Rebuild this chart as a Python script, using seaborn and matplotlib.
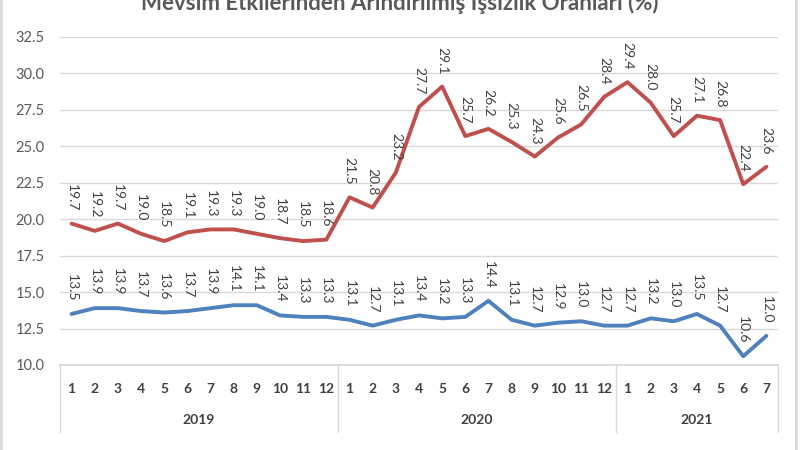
import matplotlib
matplotlib.use('Agg')
import pandas as pd
import seaborn as sns
import matplotlib.pyplot as plt
from matplotlib.lines import Line2D

# Data
years = ['2019', '2020', '2021']
months_per_year = [12, 12, 7]
red_values = [19.7, 19.2, 19.7, 19.0, 18.5, 19.1, 19.3, 19.3, 19.0, 18.7, 18.5, 18.6,
              21.5, 20.8, 23.2, 27.7, 29.1, 25.7, 26.2, 25.3, 24.3, 25.6, 26.5, 28.4,
              29.4, 28.0, 25.7, 27.1, 26.8, 22.4, 23.6]
blue_values = [13.5, 13.9, 13.9, 13.7, 13.6, 13.7, 13.9, 14.1, 14.1, 13.4, 13.3, 13.3,
               13.1, 12.7, 13.1, 13.4, 13.2, 13.3, 14.4, 13.1, 12.7, 12.9, 13.0, 12.7,
               12.7, 13.2, 13.0, 13.5, 12.7, 10.6, 12.0]
red_name = 'Atıl İşgücü Oranı'
blue_name = 'İşsizlik Oranı'
title = 'Mevsim Etkilerinden Arındırılmış İşsizlik Oranları (%)'

month_labels = [str(m) for n in months_per_year for m in range(1, n + 1)]
pos = list(range(len(month_labels)))

df = pd.DataFrame({'pos': pos * 2,
                   'value': red_values + blue_values,
                   'seri': [red_name] * len(pos) + [blue_name] * len(pos)})

sns.set_theme(style='white')
plt.rcParams['font.family'] = ['Lato', 'DejaVu Sans']

red = '#C0504D'
blue = '#4F81BD'
txt = '#404040'

fig = plt.figure(figsize=(8, 4.5), dpi=100)
ax = fig.add_axes([0.075, 0.1889, 0.8975, 0.7289])

sns.lineplot(data=df, x='pos', y='value', hue='seri', palette={red_name: red, blue_name: blue},
             linewidth=2.8, ax=ax, legend=False)

# data labels
for x, v in zip(pos, red_values):
    ax.annotate(f'{v:.1f}', (x, v), xytext=(0, 9), textcoords='offset points',
                rotation=-90, ha='center', va='bottom', fontsize=10, color=txt)
for x, v in zip(pos, blue_values):
    ax.annotate(f'{v:.1f}', (x, v), xytext=(0, 9), textcoords='offset points',
                rotation=-90, ha='center', va='bottom', fontsize=10, color=txt)

ax.set_xlim(-0.5, len(pos) - 0.5)
ax.set_ylim(10, 32.5)
ax.set_yticks([10 + 2.5 * i for i in range(10)])
ax.set_yticklabels([f'{10 + 2.5 * i:.1f}' for i in range(10)])
ax.yaxis.grid(True, color='#D9D9D9', linewidth=1)
ax.set_xticks(pos)
ax.set_xticklabels(month_labels, fontweight='bold')
ax.tick_params(axis='x', length=0, pad=13, labelsize=10, labelcolor=txt)
ax.tick_params(axis='y', length=0, pad=11, labelsize=10.5, labelcolor='#595959')
ax.set_xlabel('')
ax.set_ylabel('')
for s in ['left', 'right', 'top']:
    ax.spines[s].set_visible(False)
ax.spines['bottom'].set_color('#D9D9D9')

# year group separators and labels
trans = ax.get_xaxis_transform()
start = -0.5
bounds = [start]
for y, n in zip(years, months_per_year):
    ax.text(start + n / 2, -0.168, y, transform=trans, ha='center', va='center',
            fontsize=10, fontweight='bold', color=txt)
    start += n
    bounds.append(start)
for b in bounds:
    ax.plot([b, b], [0, -0.205], transform=trans, color='#D9D9D9', lw=1, clip_on=False)

fig.text(0.5, 1 - 1 / 450, title, ha='center', va='center', fontsize=16,
         fontweight='bold', color='#595959')

handles = [Line2D([], [], color=blue, lw=2.8), Line2D([], [], color=red, lw=2.8)]
fig.legend(handles, [blue_name, red_name], loc='center', bbox_to_anchor=(0.5, -0.018),
           ncol=2, frameon=False, fontsize=10, labelcolor=txt, columnspacing=4)

# chart border
fig.add_artist(Line2D([0.0015, 0.0015], [0, 1], color='#D9D9D9', lw=2, transform=fig.transFigure))
fig.add_artist(Line2D([0.995, 0.995], [0, 1], color='#D9D9D9', lw=2, transform=fig.transFigure))

fig.savefig('out.png', dpi=100)
